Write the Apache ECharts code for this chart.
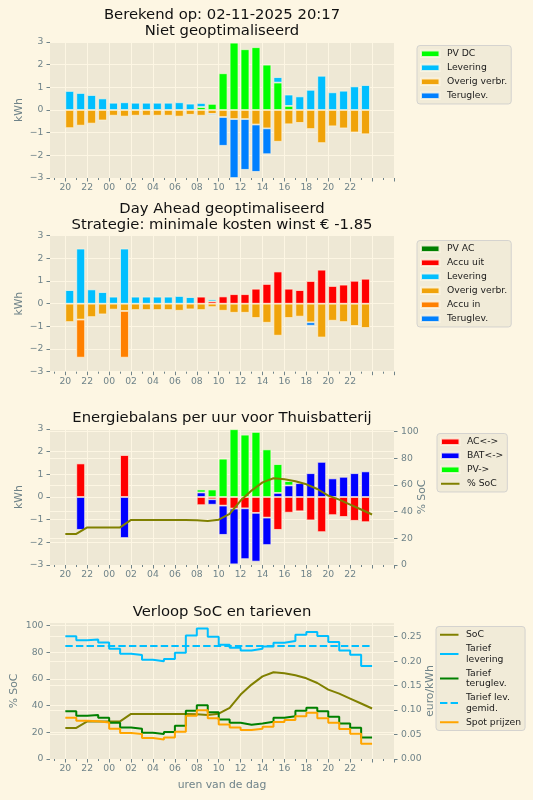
<!DOCTYPE html>
<html><head><meta charset="utf-8">
<script src="https://cdn.jsdelivr.net/npm/echarts@6/dist/echarts.min.js"></script>
<style>html,body{margin:0;padding:0;background:#fdf6e3;}#c{width:533px;height:800px;}</style>
</head><body><div id="c"></div>
<script>
// ---------- data ----------
const tickLabels = ['20','22','00','02','04','06','08','10','12','14','16','18','20','22'];

// Panel 1: Niet geoptimaliseerd
const pvDC    = [null,null,null,null,null,null,null,null,null,null,null,null,0.13,0.27,1.62,2.97,2.68,2.77,2.0,1.21,0.18,null,null,null,null,null,null,null];
const lev1    = [0.84,0.75,0.66,0.51,0.32,0.34,0.32,0.32,0.32,0.32,0.34,0.28,0.18,null,null,null,null,null,null,0.24,0.5,0.6,0.89,1.51,0.78,0.85,1.04,1.1];
const overig1 = [-0.8,-0.69,-0.6,-0.46,-0.25,-0.29,-0.25,-0.25,-0.25,-0.25,-0.29,-0.21,-0.25,-0.17,-0.31,-0.4,-0.4,-0.64,-0.81,-1.4,-0.63,-0.57,-0.84,-1.46,-0.72,-0.81,-0.99,-1.07];
const terug1  = [null,null,null,null,null,null,null,null,null,null,null,null,null,-0.06,-1.27,-2.6,-2.24,-2.09,-1.14,null,null,null,null,null,null,null,null,null];

// Panel 2: Day Ahead geoptimaliseerd
const pvAC    = [null,null,null,null,null,null,null,null,null,null,null,null,null,null,null,null,null,null,null,null,null,null,null,null,null,null,null,null];
const accuUit = [null,null,null,null,null,null,null,null,null,null,null,null,0.31,0.1,0.32,0.42,0.42,0.66,0.87,1.42,0.66,0.6,1.0,1.5,0.78,0.84,1.01,1.1];
const lev2    = [0.6,2.43,0.63,0.51,0.31,2.43,0.31,0.31,0.31,0.31,0.34,0.29,null,0.09,null,null,null,null,null,null,null,null,null,null,null,null,null,null];
const overig2 = [-0.81,-0.7,-0.59,-0.47,-0.26,-0.32,-0.28,-0.28,-0.28,-0.28,-0.31,-0.25,-0.28,-0.15,-0.31,-0.4,-0.4,-0.63,-0.84,-1.41,-0.63,-0.57,-0.82,-1.49,-0.75,-0.81,-0.98,-1.07];
const accuIn  = [null,-1.68,null,null,null,-2.06,null,null,null,null,null,null,null,null,null,null,null,null,null,null,null,null,null,null,null,null,null,null];
const terug2  = [null,null,null,null,null,null,null,null,null,null,null,null,null,null,null,null,null,null,null,null,null,null,-0.15,null,null,null,null,null];

// Panel 3: Energiebalans Thuisbatterij
const acBal   = [null,1.48,null,null,null,1.85,null,null,null,null,null,null,-0.36,-0.1,-0.38,-0.51,-0.5,-0.7,-0.91,-1.45,-0.69,-0.63,-1.03,-1.55,-0.8,-0.88,-1.05,-1.11];
const batBal  = [null,-1.45,null,null,null,-1.81,null,null,null,null,null,null,0.2,-0.24,-1.29,-2.46,-2.24,-2.15,-1.21,0.18,0.51,0.61,1.05,1.55,0.82,0.89,1.05,1.13];
const pvBal   = [null,null,null,null,null,null,null,null,null,null,null,null,0.13,0.33,1.69,2.99,2.75,2.87,2.1,1.27,0.19,null,null,null,null,null,null,null];
const soc     = [23.3,23.3,28.2,28.2,28.2,28.2,33.8,33.8,33.8,33.8,33.8,33.8,33.5,33.0,34.0,38.3,48.3,55.8,62.0,65.1,64.3,62.8,60.5,57.0,52.0,49.0,45.3,41.6,37.9];

// Panel 4: tarieven (euro/kWh)
const tariefLev   = [0.251,0.2425,0.2445,0.238,0.2255,0.2153,0.2125,0.2031,0.1997,0.2044,0.2174,0.2527,0.2669,0.25,0.2337,0.2276,0.222,0.2255,0.23,0.2377,0.241,0.254,0.2594,0.2512,0.239,0.222,0.2133,0.19];
const tariefTerug = [0.0978,0.0883,0.0897,0.0842,0.074,0.0645,0.0618,0.0536,0.0509,0.055,0.0679,0.0985,0.11,0.0958,0.0808,0.074,0.07,0.0727,0.076,0.0842,0.0876,0.0985,0.1046,0.0978,0.0863,0.0727,0.0638,0.0442];
const spotPrijs   = [0.0842,0.078,0.0774,0.0747,0.0618,0.053,0.0509,0.0428,0.0401,0.0442,0.0557,0.0883,0.0998,0.0835,0.0706,0.0645,0.0591,0.0618,0.0659,0.0754,0.0795,0.0876,0.0944,0.0835,0.074,0.0611,0.0516,0.0312];
const tariefLevGemid = 0.231;

// ---------- style / layout ----------
const FONT = 'DejaVu Sans';
const GRAY = '#6f8389';
const BG = '#fdf6e3', AXBG = '#eee8d5';
const X_MIN = -1.4, X_MAX = 30;
const GL = 50, GW = 344, GH = 136;
const tops = [42, 235.7, 429, 623];
const BW = 0.8 * GW / (X_MAX - X_MIN);

const majorTicks = []; for (let v = 0; v <= 30; v += 2) majorTicks.push(v);
const labelTicks = tickLabels.map((_, k) => 2 * k);
const minorTicks = []; for (let v = -1; v <= 29; v += 2) minorTicks.push(v);

const grids = tops.map(t => ({left: GL, top: t, width: GW, height: GH, show: true, backgroundColor: AXBG, borderWidth: 0}));

const tickStyle = {color: GRAY, width: 1};
const splitStyle = {show: true, lineStyle: {color: BG, width: 1}};
const lblBase = {fontFamily: FONT, fontSize: 9.26, color: GRAY};
const nameStyle = {fontFamily: FONT, fontSize: 10.8, color: GRAY};
const noLine = {show: false, onZero: false};

const xAxes = [];
grids.forEach((g, p) => {
  const main = {
    type: 'value', gridIndex: p, min: X_MIN, max: X_MAX, position: 'bottom',
    axisLine: noLine,
    axisTick: {show: true, customValues: majorTicks, length: 3.5, lineStyle: tickStyle},
    axisLabel: Object.assign({show: true, customValues: labelTicks, margin: 5,
      formatter: v => tickLabels[Math.round(v / 2)] || ''}, lblBase),
    splitLine: splitStyle
  };
  if (p === 3) {
    main.name = 'uren van de dag'; main.nameLocation = 'middle'; main.nameGap = 21;
    main.nameTextStyle = nameStyle; main.nameMoveOverlap = false;
  }
  xAxes.push(main);
  xAxes.push({
    type: 'value', gridIndex: p, min: X_MIN, max: X_MAX, position: 'bottom',
    axisLine: noLine, axisLabel: {show: false}, splitLine: {show: false},
    axisTick: {show: true, customValues: minorTicks, length: 2, lineStyle: tickStyle}
  });
});

const minus = v => String(v).replace('-', '\u2212');
function kwhAxis(p) {
  return {
    type: 'value', gridIndex: p, min: -3, max: 3, interval: 1, position: 'left',
    axisLine: noLine,
    axisTick: {show: true, length: 3.5, lineStyle: tickStyle},
    axisLabel: Object.assign({margin: 6.5, formatter: minus}, lblBase),
    splitLine: splitStyle,
    name: 'kWh', nameLocation: 'middle', nameGap: 25, nameRotate: 90, nameTextStyle: nameStyle, nameMoveOverlap: false
  };
}
const socTicks = [0, 20, 40, 60, 80, 100];
const eurTicks = [0, 0.05, 0.1, 0.15, 0.2, 0.25];
const yAxes = [
  kwhAxis(0),
  kwhAxis(1),
  kwhAxis(2),
  { type: 'value', gridIndex: 2, min: 0, max: 102, position: 'right',
    axisLine: noLine,
    axisTick: {show: true, customValues: socTicks, length: 3.5, lineStyle: tickStyle},
    axisLabel: Object.assign({customValues: socTicks, margin: 7}, lblBase),
    splitLine: splitStyle,
    name: '% SoC', nameLocation: 'middle', nameGap: 23, nameRotate: 90, nameTextStyle: nameStyle, nameMoveOverlap: false },
  { type: 'value', gridIndex: 3, min: 0, max: 102, position: 'left',
    axisLine: noLine,
    axisTick: {show: true, customValues: socTicks, length: 3.5, lineStyle: tickStyle},
    axisLabel: Object.assign({customValues: socTicks, margin: 6.5}, lblBase),
    splitLine: splitStyle,
    name: '% SoC', nameLocation: 'middle', nameGap: 30, nameRotate: 90, nameTextStyle: nameStyle, nameMoveOverlap: false },
  { type: 'value', gridIndex: 3, min: 0, max: 0.278, position: 'right',
    axisLine: noLine,
    axisTick: {show: true, customValues: eurTicks, length: 3.5, lineStyle: tickStyle},
    axisLabel: Object.assign({customValues: eurTicks, margin: 7, formatter: v => v.toFixed(2)}, lblBase),
    splitLine: splitStyle,
    name: 'euro/kWh', nameLocation: 'middle', nameGap: 31, nameRotate: 90, nameTextStyle: nameStyle, nameMoveOverlap: false }
];

// bars: value first so that the y dimension is the stacked one
function bars(name, arr, color, p, yi) {
  return {
    type: 'bar', name, xAxisIndex: 2 * p, yAxisIndex: yi, stack: 'p' + p, barWidth: BW,
    encode: {x: 1, y: 0},
    data: arr.map((v, i) => [v, i + 0.4]),
    itemStyle: {color, borderColor: 'rgba(253,246,227,0.85)', borderWidth: 0.8},
    emphasis: {disabled: true}
  };
}
function line(name, pts, color, p, yi, extra) {
  return Object.assign({
    type: 'line', name, xAxisIndex: 2 * p, yAxisIndex: yi, symbol: 'none', showSymbol: false,
    data: pts, lineStyle: {color, width: 2}, itemStyle: {color}, emphasis: {disabled: true}, z: 5
  }, extra || {});
}
const stepPts = arr => arr.map((v, i) => [i, v]).concat([[arr.length, arr[arr.length - 1]]]);

const series = [
  bars('PV DC', pvDC, '#00ff00', 0, 0),
  bars('Levering', lev1, '#00bfff', 0, 0),
  bars('Overig verbr.', overig1, '#f0a30a', 0, 0),
  bars('Teruglev.', terug1, '#0080ff', 0, 0),

  bars('PV AC', pvAC, '#008000', 1, 1),
  bars('Accu uit', accuUit, '#ff0000', 1, 1),
  bars('Levering', lev2, '#00bfff', 1, 1),
  bars('Overig verbr.', overig2, '#f0a30a', 1, 1),
  bars('Accu in', accuIn, '#ff8000', 1, 1),
  bars('Teruglev.', terug2, '#0080ff', 1, 1),

  bars('AC<->', acBal, '#ff0000', 2, 2),
  bars('BAT<->', batBal, '#0000ff', 2, 2),
  bars('PV->', pvBal, '#00ff00', 2, 2),
  line('% SoC', soc.map((v, i) => [i, v]), '#808000', 2, 3),

  line('SoC', soc.map((v, i) => [i, v]), '#808000', 3, 4),
  line('Tarief levering', stepPts(tariefLev), '#00bfff', 3, 5, {step: 'end'}),
  line('Tarief teruglev.', stepPts(tariefTerug), '#008000', 3, 5, {step: 'end'}),
  line('Tarief lev. gemid.', [[0, tariefLevGemid], [tariefLev.length, tariefLevGemid]], '#00bfff', 3, 5,
       {lineStyle: {color: '#00bfff', width: 2, type: [7.4, 3.2]}}),
  line('Spot prijzen', stepPts(spotPrijs), '#ffa500', 3, 5, {step: 'end'})
];

const legendNames = {
  'Tarief levering': 'Tarief\nlevering',
  'Tarief teruglev.': 'Tarief\nteruglev.',
  'Tarief lev. gemid.': 'Tarief lev.\ngemid.'
};
function legendBox(items, left, top) {
  return {
    orient: 'vertical', left, top, data: items,
    itemWidth: 18.5, itemHeight: 6.5, itemGap: 3.5, padding: [3, 4, 3, 3],
    backgroundColor: 'rgba(238,232,213,0.8)', borderColor: 'rgba(204,204,204,0.8)', borderWidth: 1, borderRadius: 3,
    selectedMode: false,
    formatter: n => legendNames[n] || n,
    textStyle: {fontFamily: FONT, fontSize: 9.26, color: '#1a1a1a', lineHeight: 10.5, padding: [0, 0, 0, 2.4]}
  };
}
const rect = n => ({name: n, icon: 'rect'});
const lineItem = (n, dash) => ({name: n, itemStyle: {opacity: 0},
  lineStyle: dash ? {type: dash, width: 2} : {width: 2}});

const titleStyle = {fontFamily: FONT, fontSize: 14.8, fontWeight: 'normal', color: '#111', lineHeight: 16};
const titles = [
  {text: 'Berekend op: 02-11-2025 20:17\nNiet geoptimaliseerd', top: 7.5},
  {text: 'Day Ahead geoptimaliseerd\nStrategie: minimale kosten winst € -1.85', top: 201},
  {text: 'Energiebalans per uur voor Thuisbatterij', top: 410.5},
  {text: 'Verloop SoC en tarieven', top: 604}
].map(t => Object.assign({left: GL + GW / 2, textAlign: 'center', padding: 0, textStyle: titleStyle}, t));

const option = {
  animation: false,
  backgroundColor: BG,
  title: titles,
  grid: grids,
  xAxis: xAxes,
  yAxis: yAxes,
  legend: [
    legendBox(['PV DC', 'Levering', 'Overig verbr.', 'Teruglev.'].map(rect), 417, 45.5),
    legendBox(['PV AC', 'Accu uit', 'Levering', 'Overig verbr.', 'Accu in', 'Teruglev.'].map(rect), 417, 240.5),
    legendBox([rect('AC<->'), rect('BAT<->'), rect('PV->'), lineItem('% SoC')], 437, 433.5),
    legendBox([lineItem('SoC'), lineItem('Tarief levering'), lineItem('Tarief teruglev.'),
               lineItem('Tarief lev. gemid.', [7.4, 3.2]), lineItem('Spot prijzen')], 436, 626.5)
  ],
  series
};
const chart = echarts.init(document.getElementById('c'));
chart.setOption(option);
</script>
</body></html>
